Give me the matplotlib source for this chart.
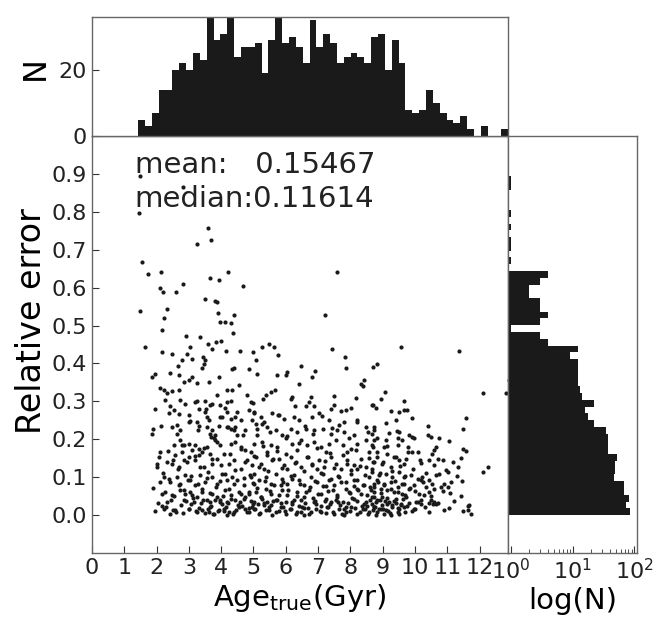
import matplotlib
matplotlib.use('Agg')
import matplotlib.pyplot as plt
import numpy as np

# ---- top histogram: number of stars per true-age bin ----
age_lo, age_hi = 1.43, 12.89
age_counts = [5, 3, 7, 14, 14, 20, 22, 20, 25, 23,
              36, 29, 31, 36, 24, 27, 27, 28, 19, 29,
              37, 28, 30, 27, 22, 35, 27, 31, 28, 22,
              24, 25, 24, 22, 30, 31, 20, 29, 22, 8,
              7, 8, 14, 10, 7, 5, 4, 6, 2, 0,
              3, 0, 0, 2]

# ---- right histogram: number of stars per relative-error bin (bottom -> top) ----
err_lo, err_hi = 0.0, 0.894
err_counts = [85, 73, 81, 69, 69, 46, 49, 49, 52, 37,
              37, 37, 35, 22, 18, 16, 22, 14, 13, 12,
              12, 12, 12, 9, 12, 4, 3, 1, 3, 4,
              3, 3, 2, 2, 3, 4, 0, 1, 0, 1,
              1, 0, 1, 0, 1, 0, 0, 0, 1, 1]

# ---- scatter: (age_true, relative error), read region by region ----
pts_upper = [(1.49, .894), (2.83, .865), (1.46, .796), (3.58, .758), (3.69, .726), (3.25, .714),
             (1.56, .668), (1.74, .636), (2.14, .640), (2.12, .600), (2.19, .589), (2.59, .589),
             (2.82, .609), (3.64, .626), (3.92, .619), (4.20, .640), (4.67, .605), (7.60, .641),
             (1.49, .537), (2.31, .543), (2.22, .521), (3.51, .571), (3.80, .565), (3.88, .561),
             (3.91, .532), (4.40, .528), (3.95, .509), (4.13, .509), (4.31, .507), (2.18, .487),
             (4.36, .479), (7.23, .528), (1.64, .443), (2.18, .429), (2.49, .426), (2.91, .472),
             (3.33, .471), (3.04, .443), (2.94, .426), (2.67, .394), (2.80, .409), (3.10, .411),
             (3.44, .418), (3.51, .409), (3.47, .398), (3.40, .387), (3.59, .451), (3.71, .437),
             (3.85, .456), (4.01, .460), (4.16, .432), (4.32, .385), (4.40, .387), (4.57, .434),
             (4.99, .429), (5.08, .409), (5.27, .443), (5.47, .450), (5.63, .443), (5.75, .422),
             (7.42, .437), (7.83, .418), (7.85, .387), (9.58, .444), (11.35, .432), (6.46, .393),
             (6.90, .380), (8.71, .391), (8.81, .398), (12.92, .355)]

pts_young = [(1.96, .373), (1.85, .364), (2.42, .375), (2.68, .369), (2.84, .351), (2.99, .357),
             (3.09, .364), (3.25, .349), (3.61, .351), (3.92, .363), (4.85, .386), (4.54, .342),
             (4.34, .331), (4.18, .329), (2.11, .334), (2.22, .329), (2.32, .322), (2.47, .327),
             (2.68, .329), (2.27, .303), (2.73, .303), (3.20, .298), (3.25, .301), (3.51, .301),
             (3.72, .294), (3.87, .316), (4.18, .298), (4.29, .301), (4.80, .316), (4.91, .298),
             (1.96, .281), (2.42, .287), (2.53, .276), (2.68, .266), (2.99, .265), (3.30, .281),
             (3.51, .272), (3.66, .290), (3.97, .290), (4.13, .283), (4.18, .272), (4.29, .254),
             (4.44, .259), (4.85, .278), (5.01, .268), (3.56, .259), (4.03, .259), (1.90, .228),
             (1.85, .215), (2.47, .232), (2.63, .237), (2.73, .224), (2.99, .246), (3.25, .246),
             (3.30, .234), (3.61, .250), (3.56, .232), (3.72, .224), (3.92, .234), (4.18, .232),
             (4.29, .228), (4.44, .232), (4.60, .250), (4.75, .224), (4.96, .250), (4.49, .210),
             (4.39, .224), (3.82, .210), (3.66, .215), (2.11, .166), (2.53, .184), (2.73, .197),
             (2.84, .184), (2.99, .188), (3.20, .184), (3.30, .175), (3.41, .166), (3.56, .180),
             (3.82, .197), (3.77, .202), (3.97, .184), (4.29, .188), (4.44, .193), (4.60, .180),
             (4.75, .171), (4.91, .166), (2.78, .166), (3.09, .171), (2.06, .153), (2.01, .127),
             (2.32, .140), (2.47, .136), (2.68, .127), (2.84, .144), (2.99, .153), (3.20, .144),
             (3.30, .158), (3.46, .127), (3.72, .136), (3.87, .149), (4.08, .162), (4.23, .136),
             (4.39, .144), (4.60, .122), (4.80, .144), (4.96, .131), (2.58, .158), (3.66, .162),
             (2.22, .100), (2.63, .100), (2.73, .083), (2.89, .105), (3.04, .092), (3.35, .105),
             (3.51, .087), (3.72, .100), (3.87, .083), (4.03, .109), (4.18, .092), (4.34, .100),
             (4.49, .092), (4.70, .078), (4.91, .100), (5.01, .083), (2.42, .087), (3.20, .078),
             (2.16, .056), (2.47, .052), (2.73, .065), (2.89, .056), (3.04, .061), (3.25, .048),
             (3.41, .061), (3.56, .039), (3.72, .056), (3.87, .048), (3.97, .039), (4.13, .065),
             (4.29, .052), (4.44, .039), (4.60, .056), (4.75, .048), (4.85, .061), (5.01, .034),
             (2.32, .034), (2.84, .039), (3.15, .034), (3.66, .034), (4.18, .034), (2.22, .017),
             (2.42, .004), (2.58, .013), (2.99, .017), (3.25, .008), (3.41, .013), (3.61, .008),
             (3.77, .004), (3.92, .013), (4.08, .017), (4.23, .008), (4.39, .008), (4.54, .022),
             (4.75, .017), (4.85, .008), (4.96, .022), (4.18, .001), (3.66, .022)]

pts_mid = [(5.12, .373), (6.05, .378), (6.00, .369), (5.72, .369), (6.41, .345), (6.82, .364),
           (8.33, .347), (8.43, .356), (8.38, .340), (5.66, .331), (5.53, .325), (5.38, .316),
           (5.30, .305), (6.15, .307), (6.20, .312), (6.77, .312), (6.72, .298), (6.62, .287),
           (6.88, .287), (7.39, .281), (7.50, .290), (7.86, .278), (8.02, .283), (8.17, .310),
           (8.69, .290), (7.50, .313), (5.01, .272), (5.22, .259), (5.58, .268), (5.79, .263),
           (5.95, .254), (6.26, .259), (6.41, .250), (6.82, .259), (7.03, .268), (7.34, .250),
           (7.65, .237), (7.81, .246), (8.22, .246), (5.32, .246), (5.07, .241), (5.12, .228),
           (5.43, .232), (5.69, .224), (6.15, .228), (6.36, .219), (6.62, .228), (6.88, .224),
           (7.14, .228), (7.39, .215), (7.60, .224), (7.81, .219), (8.12, .210), (8.48, .232),
           (8.74, .224), (5.12, .210), (5.89, .210), (5.01, .188), (5.27, .193), (5.53, .184),
           (5.74, .180), (6.00, .202), (6.20, .188), (6.46, .197), (6.67, .184), (6.88, .193),
           (7.08, .180), (7.34, .188), (7.55, .197), (7.76, .184), (8.02, .175), (8.22, .188),
           (8.48, .197), (8.69, .180), (5.43, .166), (6.36, .171), (7.24, .166), (7.91, .166),
           (8.58, .166), (5.07, .153), (5.22, .136), (5.43, .158), (5.58, .144), (5.79, .149),
           (5.95, .131), (6.15, .153), (6.31, .140), (6.46, .127), (6.67, .153), (6.82, .136),
           (7.03, .144), (7.19, .127), (7.39, .153), (7.55, .136), (7.70, .122), (7.91, .144),
           (8.12, .131), (8.33, .149), (8.48, .127), (8.69, .140), (5.32, .122), (6.05, .122),
           (6.98, .122), (8.22, .122), (5.01, .109), (5.17, .092), (5.38, .100), (5.53, .083),
           (5.69, .109), (5.89, .096), (6.05, .083), (6.26, .105), (6.41, .092), (6.57, .078),
           (6.77, .100), (6.98, .087), (7.14, .109), (7.34, .092), (7.50, .078), (7.65, .100),
           (7.86, .087), (8.02, .109), (8.22, .092), (8.43, .078), (8.58, .100), (8.74, .083),
           (5.84, .078), (7.24, .076), (8.12, .077), (5.07, .061), (5.22, .048), (5.38, .070),
           (5.53, .056), (5.74, .039), (5.89, .065), (6.05, .052), (6.20, .034), (6.36, .061),
           (6.57, .048), (6.72, .065), (6.88, .034), (7.08, .056), (7.24, .043), (7.45, .065),
           (7.60, .052), (7.76, .034), (7.96, .061), (8.12, .043), (8.33, .056), (8.48, .034),
           (8.64, .065), (8.74, .048), (5.43, .034), (6.46, .039), (7.39, .034), (8.22, .070),
           (5.01, .017), (5.17, .004), (5.32, .026), (5.48, .013), (5.69, .008), (5.84, .022),
           (6.00, .004), (6.15, .017), (6.36, .008), (6.51, .022), (6.72, .004), (6.93, .017),
           (7.08, .008), (7.29, .022), (7.50, .004), (7.65, .017), (7.86, .008), (8.02, .022),
           (8.22, .004), (8.38, .017), (8.58, .008), (8.74, .022), (5.58, .001), (6.57, .001),
           (7.81, .001)]

pts_old = [(9.06, .325), (8.94, .307), (9.66, .301), (9.66, .276), (9.75, .276), (12.10, .323),
           (12.82, .322), (8.68, .290), (9.27, .275), (9.51, .272), (9.41, .252), (11.58, .257),
           (11.48, .228), (8.73, .232), (8.68, .215), (9.20, .217), (9.51, .219), (9.46, .202),
           (9.61, .197), (9.82, .210), (9.92, .206), (9.98, .202), (10.39, .210), (10.49, .206),
           (10.75, .204), (11.06, .195), (8.84, .202), (9.10, .197), (8.73, .197), (8.68, .184),
           (9.04, .180), (9.46, .184), (9.77, .180), (9.92, .166), (10.08, .166), (10.65, .180),
           (10.60, .171), (10.54, .162), (11.48, .175), (11.58, .169), (11.42, .151), (8.84, .153),
           (9.15, .162), (9.35, .153), (9.51, .144), (9.66, .136), (9.72, .149), (10.18, .137),
           (10.44, .144), (10.70, .149), (10.86, .146), (11.17, .140), (11.32, .127), (12.25, .127),
           (12.10, .114), (8.73, .140), (8.99, .136), (9.25, .127), (8.68, .114), (8.89, .105),
           (9.10, .109), (9.30, .100), (9.51, .114), (9.66, .100), (9.87, .107), (10.08, .096),
           (10.23, .100), (10.44, .092), (10.65, .107), (10.75, .109), (11.01, .114), (8.84, .092),
           (9.04, .083), (9.25, .087), (9.46, .074), (9.66, .083), (9.98, .078), (10.18, .092),
           (10.34, .074), (10.54, .083), (10.91, .083), (11.11, .087), (8.73, .074), (8.94, .070),
           (9.15, .065), (9.35, .061), (9.61, .056), (9.82, .070), (10.13, .056), (10.29, .052),
           (10.44, .061), (10.60, .070), (10.86, .063), (11.01, .074), (8.68, .048), (8.84, .039),
           (8.99, .048), (9.20, .034), (9.41, .043), (9.56, .030), (9.72, .048), (10.03, .034),
           (10.18, .030), (10.49, .039), (10.65, .030), (11.42, .049), (8.73, .022), (8.94, .017),
           (9.10, .013), (9.30, .026), (9.46, .008), (9.66, .022), (9.98, .017), (10.44, .032),
           (10.60, .034), (11.68, .026), (11.63, .013), (11.74, .004), (8.79, .001), (9.04, .004),
           (9.25, .001), (9.51, .004)]

# the dense band near zero error holds many more stars
pts_dense = [(1.95, .012), (2.05, .031), (2.3, .022), (2.45, .041), (2.6, .008), (2.75, .027),
             (2.9, .036), (3.0, .015), (3.12, .044), (3.3, .019), (3.38, .033), (3.5, .006),
             (3.68, .025), (3.8, .039), (3.9, .011), (4.02, .029), (4.15, .020), (4.3, .043),
             (4.45, .014), (4.58, .035), (4.66, .024), (4.8, .009), (4.93, .038), (5.05, .017),
             (5.15, .030), (5.25, .042), (5.4, .013), (5.55, .026), (5.62, .037), (5.78, .010),
             (5.9, .021), (6.02, .034), (6.12, .016), (6.25, .040), (6.4, .023), (6.48, .007),
             (6.6, .032), (6.7, .018), (6.85, .045), (6.95, .028), (7.05, .012), (7.2, .036),
             (7.32, .021), (7.45, .009), (7.55, .039), (7.68, .026), (7.8, .015), (7.92, .033),
             (8.05, .044), (8.15, .019), (8.3, .008), (8.42, .030), (8.5, .024), (8.62, .041),
             (8.7, .013), (8.8, .035), (8.88, .017), (8.97, .027), (9.08, .038), (9.18, .010),
             (9.3, .022), (9.4, .031), (9.52, .016), (9.63, .042), (9.75, .025), (9.9, .011),
             (10.1, .034), (10.3, .020), (10.55, .028), (10.9, .014), (11.2, .037), (11.65, .023),
             (2.18, .025), (2.52, .014), (2.83, .005), (3.06, .030), (3.22, .011), (3.45, .040),
             (3.6, .017), (3.75, .004), (3.97, .035), (4.1, .010), (4.22, .031), (4.38, .003),
             (4.52, .026), (4.72, .042), (4.86, .019), (5.0, .028), (5.2, .006), (5.33, .033),
             (5.47, .021), (5.7, .040), (5.84, .031), (5.97, .012), (6.18, .028), (6.33, .003),
             (6.55, .019), (6.78, .009), (6.9, .038), (7.1, .024), (7.26, .005), (7.38, .029),
             (7.62, .034), (7.74, .004), (7.86, .022), (8.0, .011), (8.22, .037), (8.35, .025),
             (8.46, .015), (8.56, .004), (8.67, .029), (8.75, .021), (8.84, .009), (8.93, .040),
             (9.02, .016), (9.13, .030), (9.24, .006), (9.35, .036), (9.46, .019), (9.58, .027),
             (9.69, .009), (9.82, .033), (10.0, .017), (10.2, .040), (10.42, .008), (10.7, .031),
             (11.05, .019), (11.5, .010),
             (1.9, .072), (2.1, .088), (2.25, .061), (2.38, .095), (2.55, .049), (2.7, .079),
             (2.85, .066), (2.96, .093), (3.1, .054), (3.27, .083), (3.42, .069), (3.55, .097),
             (3.65, .058), (3.85, .075), (3.95, .090), (4.07, .051), (4.25, .068), (4.4, .081),
             (4.55, .062), (4.7, .098), (4.85, .056), (4.98, .085), (5.1, .071), (5.22, .047),
             (5.35, .091), (5.5, .064), (5.65, .078), (5.8, .053), (5.92, .087), (6.08, .067),
             (6.2, .095), (6.35, .050), (6.45, .082), (6.62, .060), (6.75, .073), (6.9, .089),
             (7.0, .055), (7.15, .077), (7.3, .063), (7.4, .094), (7.58, .048), (7.72, .086),
             (7.85, .070), (7.98, .057), (8.1, .092), (8.25, .066), (8.38, .080), (8.52, .052),
             (8.6, .074), (8.72, .062), (8.85, .088), (8.95, .058), (9.05, .079), (9.15, .046),
             (9.25, .069), (9.38, .091), (9.48, .060), (9.6, .083), (9.7, .054), (9.85, .072),
             (10.0, .063), (10.25, .086), (10.5, .051), (10.8, .075), (11.1, .059), (11.45, .090),
             (2.0, .135), (2.2, .112), (2.35, .168), (2.5, .146), (2.65, .121), (2.8, .185),
             (2.95, .139), (3.08, .104), (3.18, .157), (3.35, .127), (3.48, .178), (3.6, .113),
             (3.72, .149), (3.88, .194), (4.0, .133), (4.12, .108), (4.28, .162), (4.42, .119),
             (4.6, .175), (4.75, .141), (4.88, .106), (5.02, .155), (5.18, .128), (5.3, .182),
             (5.45, .115), (5.6, .147), (5.72, .170), (5.87, .124), (6.0, .160), (6.15, .103),
             (6.3, .138), (6.42, .189), (6.55, .117), (6.7, .152), (6.82, .131), (6.97, .176),
             (7.1, .110), (7.22, .143), (7.36, .165), (7.5, .125), (7.63, .102), (7.77, .158),
             (7.9, .136), (8.02, .118), (8.18, .172), (8.3, .129), (8.45, .107), (8.57, .150),
             (8.68, .121), (8.82, .166), (8.92, .112), (9.02, .140), (9.12, .183), (9.28, .116),
             (9.42, .153), (9.55, .130), (9.68, .104), (9.8, .167), (9.95, .122), (10.15, .145),
             (10.35, .111), (10.6, .131), (10.95, .119), (11.3, .104),
             (2.15, .235), (2.4, .268), (2.62, .215), (2.88, .292), (3.05, .247), (3.28, .225),
             (3.52, .279), (3.7, .205), (3.95, .258), (4.2, .231), (4.48, .273), (4.68, .212),
             (5.0, .296), (5.27, .241), (5.52, .219), (5.76, .264), (6.05, .208), (6.28, .287),
             (6.6, .236), (6.84, .213), (7.12, .262), (7.42, .229), (7.7, .275), (7.95, .204),
             (8.2, .252), (8.55, .218), (8.8, .283), (9.1, .242), (9.45, .221), (9.9, .255),
             (10.4, .234)]

mean_txt = 'mean:   0.15467'
median_txt = 'median:0.11614'

allpts = pts_upper + pts_young + pts_mid + pts_old + pts_dense
age_true = [p[0] for p in allpts]
rel_err = [p[1] for p in allpts]

ink = '#1a1a1a'
spine_col = '#666666'
tick_fs = 16
lab_fs = 21

fig = plt.figure(figsize=(6.68, 6.2), dpi=100)
ax = fig.add_axes([0.1377, 0.1081, 0.6232, 0.6726])
axt = fig.add_axes([0.1377, 0.7806, 0.6232, 0.1919])
axr = fig.add_axes([0.7609, 0.1081, 0.1927, 0.6726])

# main scatter
ax.scatter(age_true, rel_err, s=9, c=ink, linewidths=0)
ax.set_xlim(0, age_hi)
ax.set_ylim(-0.1, 1.0)
ax.set_xticks(range(0, 13))
ax.set_yticks(np.arange(0, 0.91, 0.1))
ax.set_yticklabels(['%.1f' % v for v in np.arange(0, 0.91, 0.1)])
ax.set_xlabel('Age$_{\\mathrm{true}}$(Gyr)', fontsize=lab_fs, labelpad=3)
ax.set_ylabel('Relative error', fontsize=24)
ax.yaxis.set_label_coords(-0.105, 0.555)
ax.text(0.103, 0.911, mean_txt, transform=ax.transAxes, fontsize=lab_fs, color='#222222')
ax.text(0.103, 0.830, median_txt, transform=ax.transAxes, fontsize=lab_fs, color='#222222')

# top histogram
age_edges = np.linspace(age_lo, age_hi, len(age_counts) + 1)
axt.bar(age_edges[:-1], age_counts, width=np.diff(age_edges), align='edge',
        color=ink, linewidth=0)
axt.set_xlim(0, age_hi)
axt.set_ylim(0, 36)
axt.set_yticks([0, 20])
axt.set_xticks([])
axt.set_ylabel('N', fontsize=23)
axt.yaxis.set_label_coords(-0.098, 0.57)

# right histogram (log counts)
err_edges = np.linspace(err_lo, err_hi, len(err_counts) + 1)
axr.barh(err_edges[:-1], err_counts, height=np.diff(err_edges), align='edge',
         color=ink, linewidth=0, log=True)
axr.set_xscale('log')
axr.set_xlim(0.91, 110)
axr.set_ylim(-0.1, 1.0)
axr.set_yticks([])
axr.set_xlabel('log(N)', fontsize=lab_fs, labelpad=3)

for a in (ax, axt, axr):
    for sp in a.spines.values():
        sp.set_color(spine_col)
        sp.set_linewidth(1.0)
    a.tick_params(which='both', direction='in', labelsize=tick_fs, colors='#333333',
                  labelcolor='#222222')
    a.tick_params(which='major', length=5)
    a.tick_params(which='minor', length=3)

fig.savefig('out.png', dpi=100)
